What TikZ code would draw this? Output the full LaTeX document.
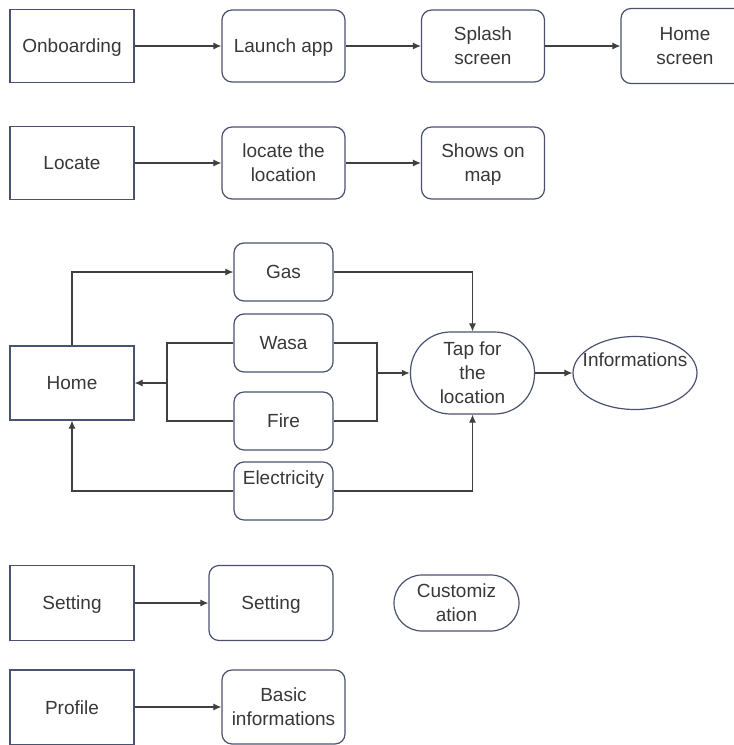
\documentclass[tikz,border=0pt]{standalone}
\usepackage{fontspec}
\setmainfont{Liberation Sans}
\usetikzlibrary{arrows.meta,shapes.geometric}
\definecolor{bord}{HTML}{4A5272}
\definecolor{wire}{HTML}{404040}
\definecolor{txt}{HTML}{383838}
\begin{document}
\begin{tikzpicture}[x=1pt,y=-1pt,
  base/.style={draw=bord,line width=1.2pt,text=txt,align=center,inner sep=0pt,text depth=0pt,
    font=\fontsize{19}{24}\selectfont},
  sqbox/.style={base,rectangle,minimum width=124pt,minimum height=73pt},
  rbox/.style={base,rectangle,rounded corners=10pt,minimum width=123pt,minimum height=72pt},
  sbox/.style={base,rectangle,rounded corners=10pt,minimum width=99pt,minimum height=58pt},
  wireline/.style={draw=wire,line width=1.1pt},
  arr/.style={wireline,-{Latex[length=8pt,width=7pt]}},
  plain/.style={text=txt,inner sep=0pt,align=center,text depth=0pt,font=\fontsize{19}{24}\selectfont}]
\useasboundingbox (0,0) rectangle (734,745);
% row 1
\node[sqbox] (onb) at (72,46) {Onboarding};
\node[rbox] (launch) at (283.5,46) {Launch app};
\node[rbox] (splash) at (483,46) {Splash\\screen};
\node[rbox,minimum width=128pt,minimum height=75pt] (homescr) at (685,46) {Home\\screen};
\draw[arr] (onb) -- (launch);
\draw[arr] (launch) -- (splash);
\draw[arr] (splash) -- (homescr);
% row 2
\node[sqbox] (locate) at (72,163) {Locate};
\node[rbox] (locloc) at (283.5,163) {locate the\\location};
\node[rbox] (shows) at (483,163) {Shows on\\map};
\draw[arr] (locate) -- (locloc);
\draw[arr] (locloc) -- (shows);
% middle
\node[sqbox,minimum height=74pt] (home) at (72,383) {Home};
\node[sbox] (gas) at (283.5,272) {Gas};
\node[sbox] (wasa) at (283.5,343) {Wasa};
\node[sbox] (fire) at (283.5,421) {Fire};
\node[sbox] (elec) at (283.5,491) {};
\node[plain] (electxt) at (283.5,478) {Electricity};
\node[base,rectangle,rounded corners=40pt,minimum width=124pt,minimum height=82pt] (tap) at (472.5,373) {Tap for\\the\\location};
\node[base,ellipse,minimum width=124pt,minimum height=73pt] (info) at (635,373) {};
\node[plain] (infotxt) at (635,360) {Informations};
\coordinate (jl) at (167,383);
\coordinate (jr) at (377,373);
\draw[arr] (home.north) |- (gas.west);
\draw[wireline] (wasa.west) -| (jl);
\draw[wireline] (fire.west) -| (jl);
\draw[arr] (jl) -- (home.east);
\draw[wireline] (wasa.east) -| (jr);
\draw[wireline] (fire.east) -| (jr);
\draw[arr,line width=1.8pt] (jr) -- (tap.west);
\draw[arr] (gas.east) -| (tap.north);
\draw[arr] (elec.west) -| (home.south);
\draw[arr] (elec.east) -| (tap.south);
\draw[arr] (tap.east) -- (info.west);
% bottom
\node[sqbox,minimum height=75pt] (set1) at (72,603) {Setting};
\node[rbox,minimum width=124pt,minimum height=75pt] (set2) at (271,603) {Setting};
\node[base,rectangle,rounded corners=28pt,minimum width=125pt,minimum height=56pt] (cust) at (456.5,603) {Customiz\\ation};
\draw[arr] (set1) -- (set2);
\node[sqbox,minimum height=75pt] (prof) at (72,707.5) {Profile};
\node[rbox,minimum height=74pt] (basic) at (283.5,707) {Basic\\informations};
\draw[arr] (prof.east |- basic.west) -- (basic.west);
\end{tikzpicture}
\end{document}
